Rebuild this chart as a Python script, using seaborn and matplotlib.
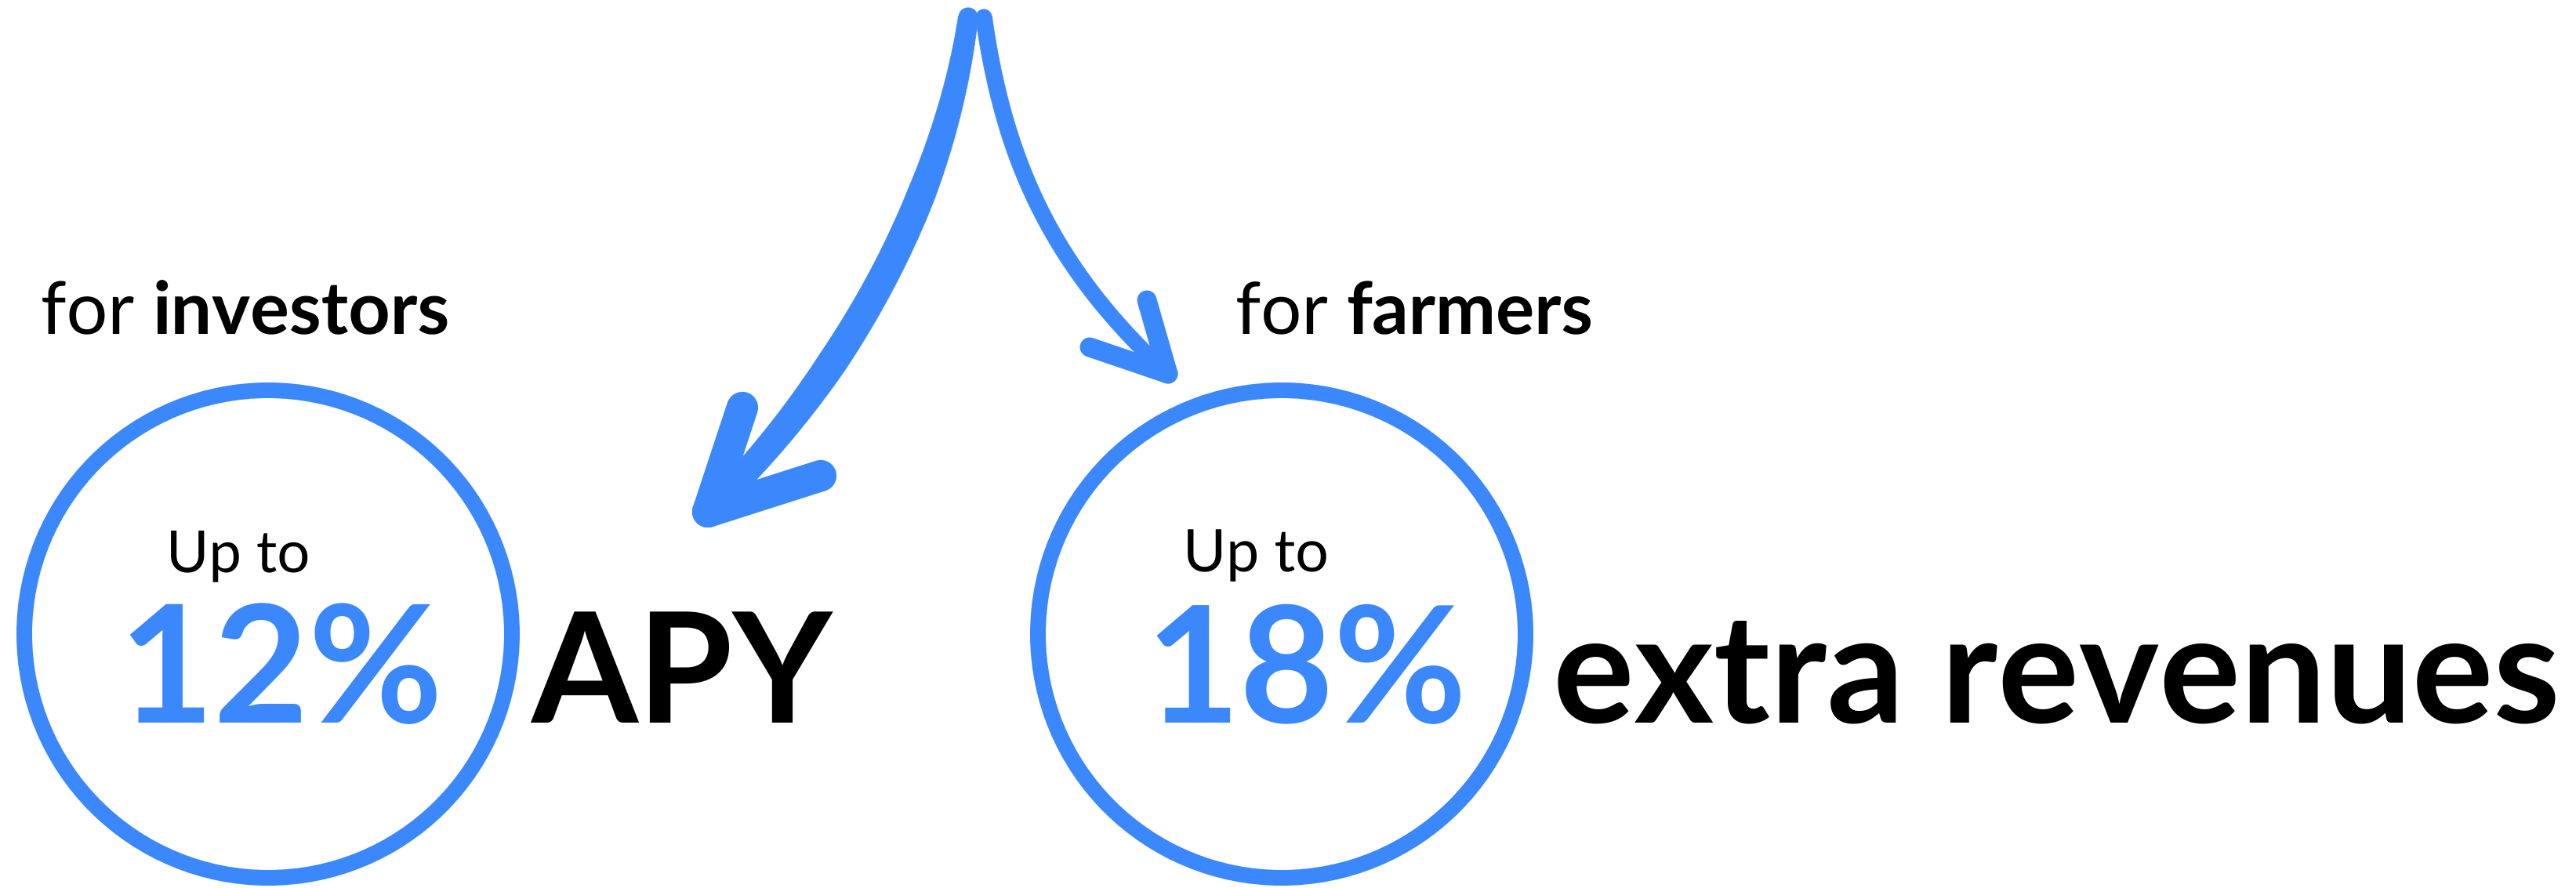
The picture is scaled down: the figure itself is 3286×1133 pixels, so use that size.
import numpy as np
import pandas as pd
import matplotlib
matplotlib.use("Agg")
import matplotlib.pyplot as plt
import seaborn as sns
from matplotlib.patches import Circle

# ---- content ----
groups = ["investors", "farmers"]
prefixes = ["for", "for"]
upto = ["Up to", "Up to"]
values = [12, 18]
value_labels = ["12%", "18%"]
suffixes = ["APY", "extra revenues"]

BLUE = "#3B87FC"
W, H = 3287, 1133

sns.set_theme(style="white")
plt.rcParams["font.family"] = ["Lato", "DejaVu Sans"]
plt.rcParams["text.hinting"] = "no_hinting"
plt.rcParams["text.hinting_factor"] = 1

fig = plt.figure(figsize=(W / 100, H / 100), dpi=100)
ax = fig.add_axes([0, 0, 1, 1])
ax.set_xlim(0, W)
ax.set_ylim(H, 0)
ax.set_axis_off()
fig.patch.set_facecolor("white")

renderer = fig.canvas.get_renderer()
inv = ax.transData.inverted()

# layout (pixel coordinates, y downwards)
circle_cx = [342, 1635]
circle_cy = 809
circle_r = 311
label_x = [(52, 570), (1576, 2033)]
label_y = 426
upto_x = [(212, 394), (1509, 1694)]
upto_y = 729
value_x = [(151, 566), (1461, 1872)]
value_y = 922
suffix_x = [(677, 1063), (1981, 3270)]


def x_extent(t):
    bb = t.get_window_extent(renderer)
    return inv.transform((bb.x0, bb.y0))[0], inv.transform((bb.x1, bb.y0))[0]


def fit_text(x0, x1, y, s, size0, **kw):
    t = ax.text(x0, y, s, fontsize=size0, va="baseline", ha="left", **kw)
    a, b = x_extent(t)
    t.set_fontsize(size0 * (x1 - x0) / (b - a))
    a, b = x_extent(t)
    t.set_x(x0 - (a - x0))
    return t


def fit_pair(x0, x1, y, s1, s2, size0):
    t1 = ax.text(x0, y, s1 + " ", fontsize=size0, fontweight="normal",
                 color="black", va="baseline", ha="left")
    a1, b1 = x_extent(t1)
    t2 = ax.text(b1, y, s2, fontsize=size0, fontweight="bold",
                 color="black", va="baseline", ha="left")
    a2, b2 = x_extent(t2)
    k = (x1 - x0) / (b2 - a1)
    t1.set_fontsize(size0 * k)
    t2.set_fontsize(size0 * k)
    a1, b1 = x_extent(t1)
    t1.set_x(x0 - (a1 - x0))
    a1, b1 = x_extent(t1)
    t2.set_x(b1)


for i in range(2):
    ax.add_patch(Circle((circle_cx[i], circle_cy), circle_r, fill=False,
                        lw=14.4, ec=BLUE))
    fit_pair(*label_x[i], label_y, prefixes[i], groups[i], 60)
    fit_text(*upto_x[i], upto_y, upto[i], 60, fontweight="normal",
             color="black")
    fit_text(*value_x[i], value_y, value_labels[i], 130, fontweight="bold",
             color=BLUE)
    fit_text(*suffix_x[i], value_y, suffixes[i], 130, fontweight="bold",
             color="black")


def bezier(pts, n=300):
    p = np.array(pts, dtype=float)
    t = np.linspace(0, 1, n)[:, None]
    return ((1 - t) ** 3) * p[0] + 3 * ((1 - t) ** 2) * t * p[1] + \
        3 * (1 - t) * t ** 2 * p[2] + t ** 3 * p[3]


def draw_arrow(ctrl, barbs, wprof, wh):
    c = bezier(ctrl)
    d = np.gradient(c, axis=0)
    d /= np.linalg.norm(d, axis=1)[:, None]
    nrm = np.stack([-d[:, 1], d[:, 0]], axis=1)
    s = np.linspace(0, 1, len(c))
    w = np.interp(s, np.linspace(0, 1, len(wprof)), wprof) / 2
    left = c + nrm * w[:, None]
    right = c - nrm * w[:, None]
    poly = np.vstack([left, right[::-1]])
    ax.fill(poly[:, 0], poly[:, 1], color=BLUE, lw=0.5, ec=BLUE,
            antialiased=True)
    for p, r in ((c[0], w[0]), (c[-1], w[-1])):
        ax.add_patch(Circle(p, r, color=BLUE, lw=0))
    tip = ctrl[-1]
    for b in barbs:
        ax.plot([b[0], tip[0]], [b[1], tip[1]], color=BLUE, lw=wh,
                solid_capstyle="round")


draw_arrow([(1235, 22), (1205, 250), (1080, 480), (903, 653)],
           [(947, 520), (1047, 607)], [25, 36, 38, 30], 29)
draw_arrow([(1255, 22), (1280, 200), (1340, 340), (1490, 477)],
           [(1463, 383), (1390, 443)], [21, 21, 20, 19], 18)

fig.savefig("out.png", dpi=100, facecolor="white")
